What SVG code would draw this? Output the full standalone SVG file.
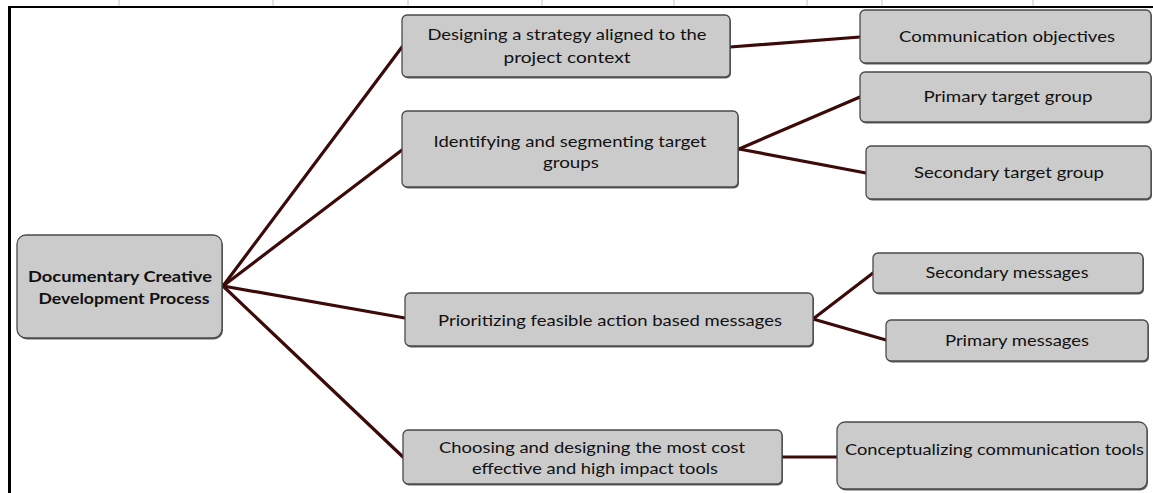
<svg xmlns="http://www.w3.org/2000/svg" width="1153" height="493" viewBox="0 0 1153 493">
  <style>
    .frame { stroke: #000; fill: none; }
    .tick { stroke: #c4c4c4; stroke-width: 1; }
    .box { fill: #cbcbcb; stroke: #4a4a4a; stroke-width: 1.3; }
    .shadow { fill: #2a2a2a; opacity: 0.75; }
    .conn { stroke: #3d0a0a; stroke-width: 3.2; stroke-linecap: round; fill: none; }
    .t { font-family: Lato, "Open Sans", "Liberation Sans", sans-serif; font-size: 16px; fill: #111; text-anchor: middle; }
    .tb { font-weight: bold; }
  </style>
  <rect width="1153" height="493" fill="#fff"/>
  <g id="frame">
    <line class="tick" x1="119" y1="0" x2="119" y2="6"/>
    <line class="tick" x1="273" y1="0" x2="273" y2="6"/>
    <line class="tick" x1="408" y1="0" x2="408" y2="6"/>
    <line class="tick" x1="542" y1="0" x2="542" y2="6"/>
    <line class="tick" x1="674" y1="0" x2="674" y2="6"/>
    <line class="tick" x1="807" y1="0" x2="807" y2="6"/>
    <line class="tick" x1="882" y1="0" x2="882" y2="6"/>
    <line class="tick" x1="1033" y1="0" x2="1033" y2="6"/>
    <line class="frame" x1="8" y1="7" x2="1153" y2="7" stroke-width="2"/>
    <line class="frame" x1="9.5" y1="6" x2="9.5" y2="493" stroke-width="3"/>
  </g>
  <g id="connectors">
    <line class="conn" x1="223" y1="286" x2="402" y2="47"/>
    <line class="conn" x1="223" y1="286" x2="402" y2="150"/>
    <line class="conn" x1="223" y1="286" x2="405" y2="318"/>
    <line class="conn" x1="223" y1="286" x2="403" y2="457"/>
    <line class="conn" x1="730" y1="47" x2="860" y2="37"/>
    <line class="conn" x1="739" y1="149" x2="860" y2="97"/>
    <line class="conn" x1="739" y1="149" x2="866" y2="173"/>
    <line class="conn" x1="813" y1="319" x2="873" y2="273"/>
    <line class="conn" x1="813" y1="319" x2="886" y2="340"/>
    <line class="conn" x1="782" y1="457" x2="837" y2="457"/>
  </g>
  <g id="root">
    <rect class="shadow" x="18" y="236.5" width="205" height="103" rx="9"/>
    <rect class="box" x="17" y="235" width="205" height="103" rx="9"/>
    <text class="t tb" x="120" y="282" textLength="184" lengthAdjust="spacingAndGlyphs">Documentary Creative</text>
    <text class="t tb" x="124" y="304" textLength="171" lengthAdjust="spacingAndGlyphs">Development Process</text>
  </g>
  <g id="n-strategy">
    <rect class="shadow" x="403" y="16.5" width="328" height="62" rx="5"/>
    <rect class="box" x="402" y="15" width="328" height="62" rx="5"/>
    <text class="t" x="567" y="40" textLength="279" lengthAdjust="spacingAndGlyphs">Designing a strategy aligned to the</text>
    <text class="t" x="567" y="63" textLength="127" lengthAdjust="spacingAndGlyphs">project  context</text>
  </g>
  <g id="n-target">
    <rect class="shadow" x="403" y="112.5" width="336" height="76" rx="5"/>
    <rect class="box" x="402" y="111" width="336" height="76" rx="5"/>
    <text class="t" x="570" y="146.5" textLength="273" lengthAdjust="spacingAndGlyphs">Identifying and segmenting target</text>
    <text class="t" x="571" y="168" textLength="56" lengthAdjust="spacingAndGlyphs">groups</text>
  </g>
  <g id="n-messages">
    <rect class="shadow" x="406" y="294.5" width="408" height="53" rx="5"/>
    <rect class="box" x="405" y="293" width="408" height="53" rx="5"/>
    <text class="t" x="610" y="326" textLength="344" lengthAdjust="spacingAndGlyphs">Prioritizing feasible action based messages</text>
  </g>
  <g id="n-tools">
    <rect class="shadow" x="404" y="431.5" width="379" height="54" rx="5"/>
    <rect class="box" x="403" y="430" width="379" height="54" rx="5"/>
    <text class="t" x="592" y="453" textLength="306" lengthAdjust="spacingAndGlyphs">Choosing and designing the most cost</text>
    <text class="t" x="595" y="474" textLength="246" lengthAdjust="spacingAndGlyphs">effective and high impact tools</text>
  </g>
  <g id="n-objectives">
    <rect class="shadow" x="861" y="11.5" width="291" height="53" rx="5"/>
    <rect class="box" x="860" y="10" width="291" height="53" rx="5"/>
    <text class="t" x="1007" y="42" textLength="216" lengthAdjust="spacingAndGlyphs">Communication objectives</text>
  </g>
  <g id="n-primary-target">
    <rect class="shadow" x="861" y="73.5" width="291" height="50" rx="5"/>
    <rect class="box" x="860" y="72" width="291" height="50" rx="5"/>
    <text class="t" x="1008" y="102" textLength="169" lengthAdjust="spacingAndGlyphs">Primary target group</text>
  </g>
  <g id="n-secondary-target">
    <rect class="shadow" x="867" y="147.5" width="285" height="53" rx="5"/>
    <rect class="box" x="866" y="146" width="285" height="53" rx="5"/>
    <text class="t" x="1009" y="178" textLength="190" lengthAdjust="spacingAndGlyphs">Secondary target group</text>
  </g>
  <g id="n-secondary-messages">
    <rect class="shadow" x="874" y="254.5" width="270" height="40" rx="5"/>
    <rect class="box" x="873" y="253" width="270" height="40" rx="5"/>
    <text class="t" x="1007" y="278" textLength="163" lengthAdjust="spacingAndGlyphs">Secondary messages</text>
  </g>
  <g id="n-primary-messages">
    <rect class="shadow" x="887" y="321.5" width="262" height="41" rx="5"/>
    <rect class="box" x="886" y="320" width="262" height="41" rx="5"/>
    <text class="t" x="1017" y="346" textLength="144" lengthAdjust="spacingAndGlyphs">Primary messages</text>
  </g>
  <g id="n-conceptualizing">
    <rect class="shadow" x="838" y="423.5" width="310" height="67" rx="8"/>
    <rect class="box" x="837" y="422" width="310" height="67" rx="8"/>
    <text class="t" x="994.5" y="455" textLength="299" lengthAdjust="spacingAndGlyphs">Conceptualizing communication tools</text>
  </g>
</svg>
